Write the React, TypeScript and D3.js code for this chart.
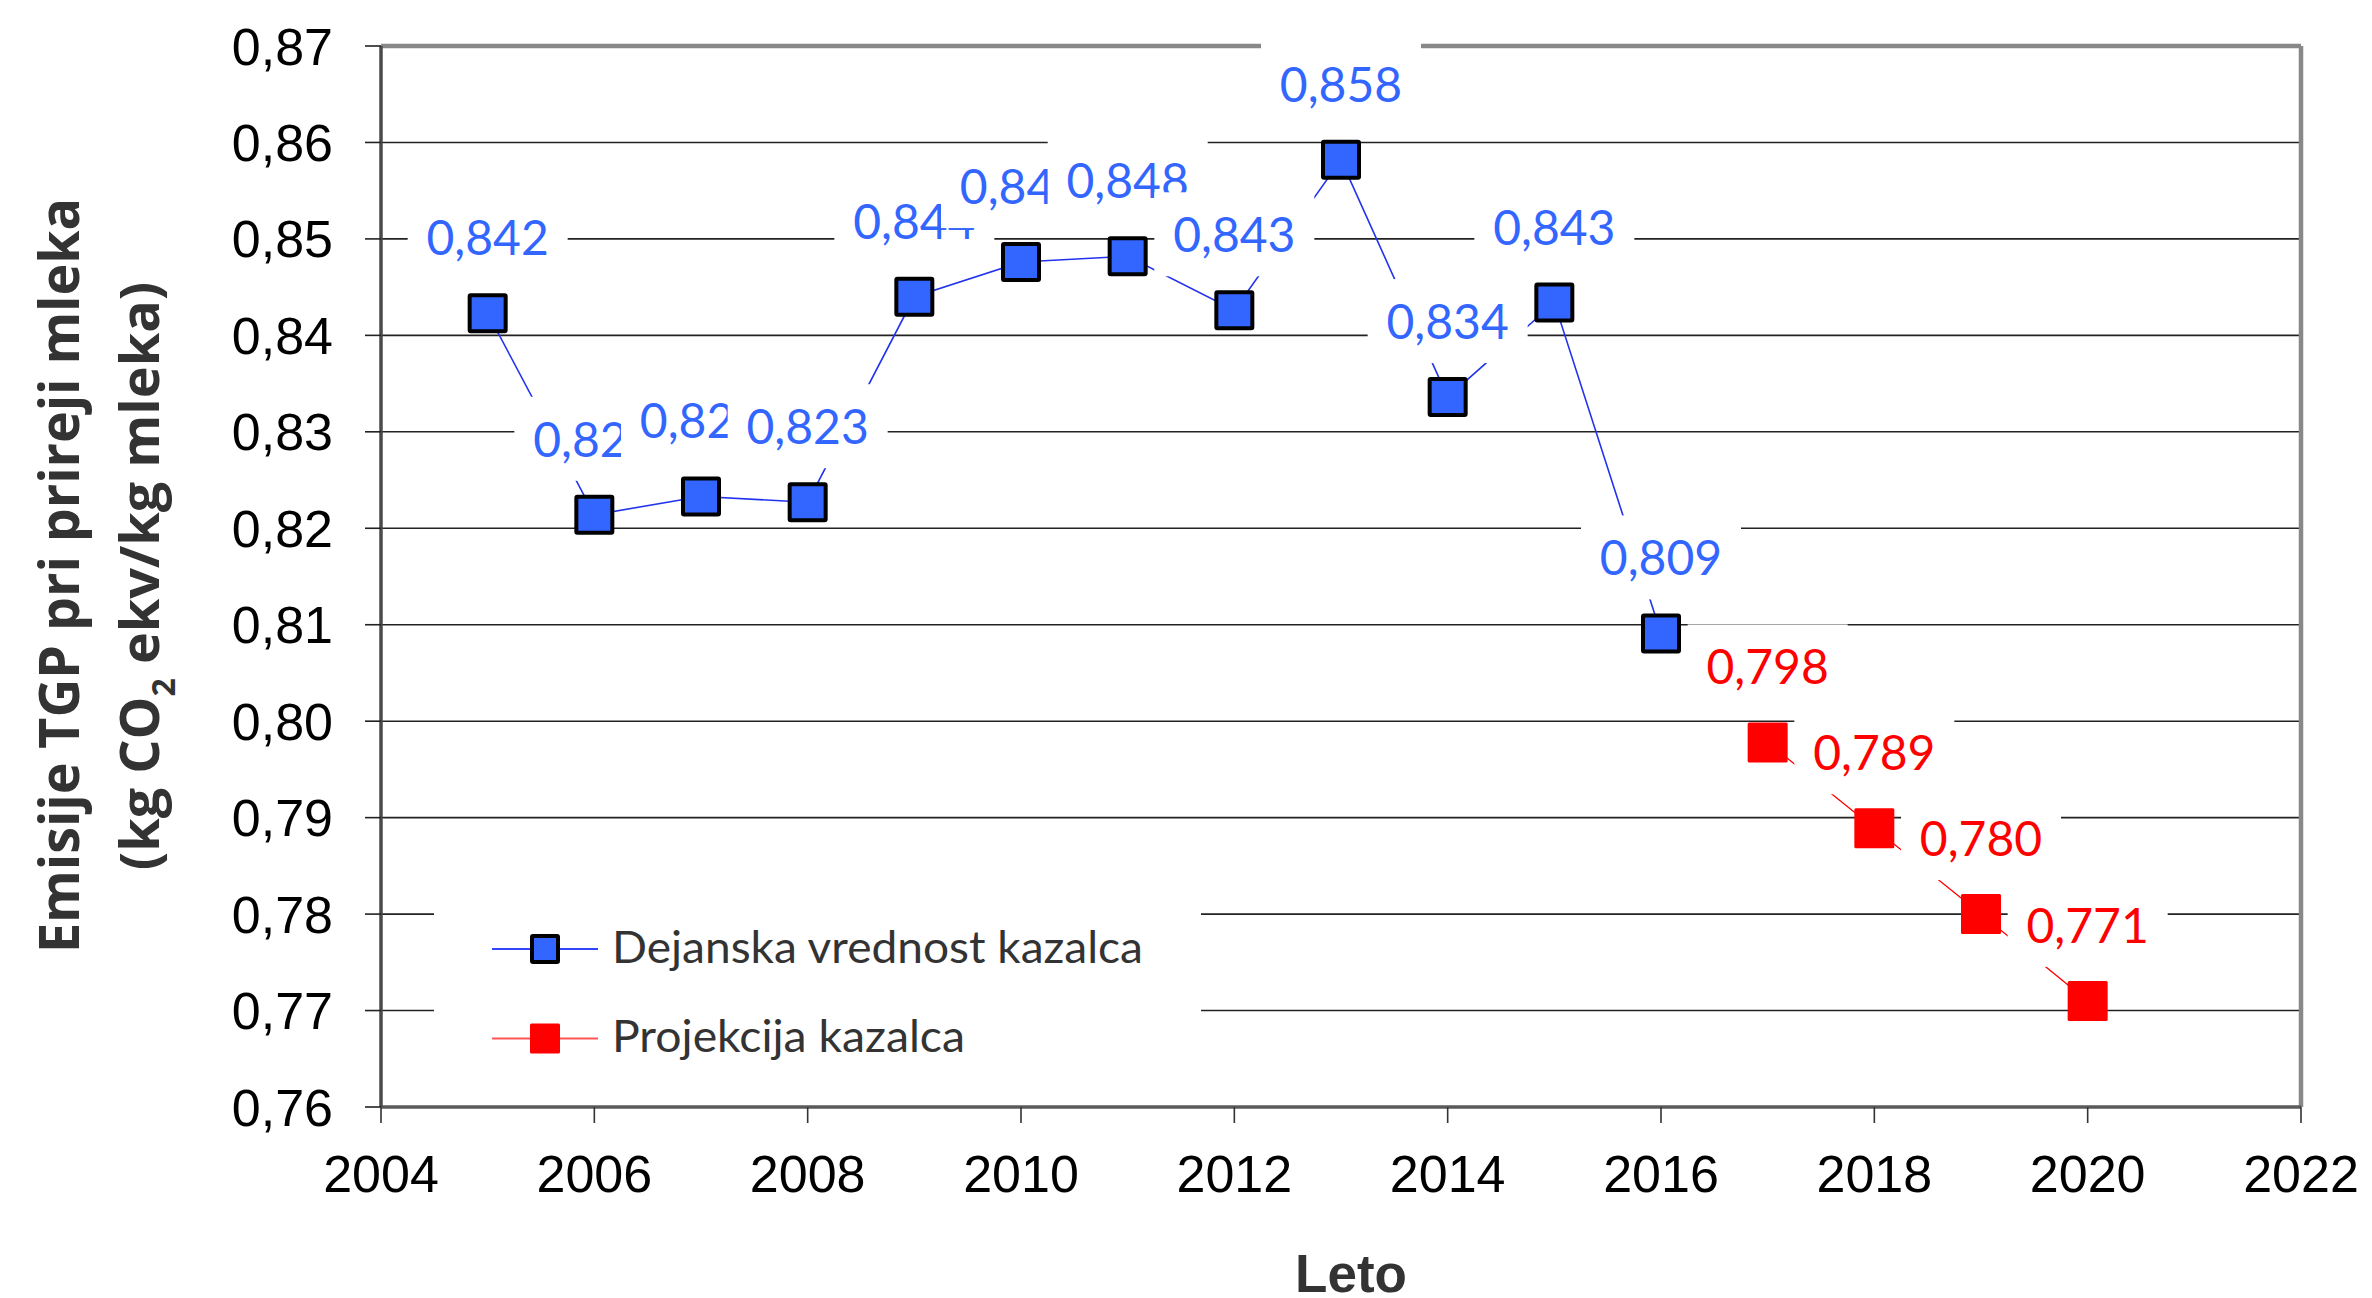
import React, { useEffect } from 'react';
import * as d3 from 'd3';

// ---- data ----
const actualYears = [2005, 2006, 2007, 2008, 2009, 2010, 2011, 2012, 2013, 2014, 2015, 2016];
const actualValues = [0.8423, 0.8214, 0.8233, 0.8227, 0.844, 0.8476, 0.8482, 0.8426, 0.8582, 0.8336, 0.8434, 0.8091];
const projectionYears = [2017, 2018, 2019, 2020];
const projectionValues = [0.7978, 0.7889, 0.78, 0.771];
const yTicks = [0.76, 0.77, 0.78, 0.79, 0.8, 0.81, 0.82, 0.83, 0.84, 0.85, 0.86, 0.87];
const xTicks = [2004, 2006, 2008, 2010, 2012, 2014, 2016, 2018, 2020, 2022];
const seriesNames = ['Dejanska vrednost kazalca', 'Projekcija kazalca'];
const yTitleLine1 = 'Emisije TGP pri prireji mleka';
const yTitleLine2a = '(kg CO';
const yTitleSub = '2';
const yTitleLine2b = ' ekv/kg mleka)';
const xTitle = 'Leto';

const W = 2372;
const H = 1298;
const PL = 381, PR = 2301, PT = 46, PB = 1107;

const BLUE_FILL = '#3366FF';
const BLUE_LINE = '#2233EE';
const RED = '#FF0000';
const LABEL_FONT = 'Lato, "Open Sans", sans-serif';
const AXIS_FONT = '"Liberation Sans", Arial, sans-serif';

export default function App() {
  useEffect(() => {
    document.body.style.margin = '0';
    document.body.style.overflow = 'hidden';
  }, []);

  const x = d3.scaleLinear().domain([2004, 2022]).range([PL, PR]);
  const y = d3.scaleLinear().domain([0.76, 0.87]).range([PB, PT]);
  const fmtTick = (v: number) => d3.format('.2f')(v).replace('.', ',');
  const fmtLbl = (v: number) => d3.format('.3f')(v).replace('.', ',');

  const actual = actualYears.map((yr, i) => [yr, actualValues[i]] as [number, number]);
  const proj = projectionYears.map((yr, i) => [yr, projectionValues[i]] as [number, number]);
  const line = d3.line<[number, number]>().x(d => x(d[0])).y(d => y(d[1]));

  const gridTicks = yTicks.filter(t => t > 0.765 && t < 0.865);

  const labelOf = (d: [number, number], color: string, key: string) => {
    const cx = x(d[0]);
    const cy = y(d[1]) - 75;
    return (
      <g key={key}>
        <rect x={cx - 80} y={cy - 43} width={160} height={84} fill="#fff" />
        <text x={cx} y={cy + 17} textAnchor="middle" fontFamily={LABEL_FONT} fontSize={48} fill={color}>
          {fmtLbl(d[1])}
        </text>
      </g>
    );
  };

  return (
    <svg width={W} height={H} style={{ position: 'absolute', left: 0, top: 0, display: 'block', background: '#fff' }}>
      {/* gridlines */}
      {gridTicks.map(t => (
        <line key={'g' + t} x1={PL} x2={PR} y1={y(t)} y2={y(t)} stroke="#222" strokeWidth={1.6} />
      ))}
      {/* frame */}
      <line x1={PL} x2={PR} y1={PT} y2={PT} stroke="#888" strokeWidth={4.5} />
      <line x1={PR} x2={PR} y1={PT} y2={PB} stroke="#888" strokeWidth={4.5} />
      <line x1={PL} x2={PR} y1={PB} y2={PB} stroke="#5a5a5a" strokeWidth={3.5} />
      <line x1={PL} x2={PL} y1={PT} y2={PB} stroke="#4a4a4a" strokeWidth={3.5} />
      {/* y ticks */}
      {yTicks.map(t => (
        <g key={'yt' + t}>
          <line x1={PL - 16} x2={PL} y1={y(t)} y2={y(t)} stroke="#222" strokeWidth={1.6} />
          <text x={333} y={y(t) + 18.5} textAnchor="end" fontFamily={AXIS_FONT} fontSize={52} fill="#000">
            {fmtTick(t)}
          </text>
        </g>
      ))}
      {/* x ticks */}
      {xTicks.map(t => (
        <g key={'xt' + t}>
          <line x1={x(t)} x2={x(t)} y1={PB} y2={PB + 16} stroke="#333" strokeWidth={1.6} />
          <text x={x(t)} y={1192} textAnchor="middle" fontFamily={AXIS_FONT} fontSize={52} fill="#000">
            {t}
          </text>
        </g>
      ))}
      {/* axis titles */}
      <text
        transform="translate(79,575.5) rotate(-90)"
        textAnchor="middle"
        fontFamily='"Open Sans", sans-serif'
        fontWeight="bold"
        fontSize={55}
        fill="#333"
        textLength={755}
        lengthAdjust="spacingAndGlyphs"
      >
        {yTitleLine1}
      </text>
      <text
        transform="translate(159,576) rotate(-90)"
        textAnchor="middle"
        fontFamily='"Open Sans", sans-serif'
        fontWeight="bold"
        fontSize={54}
        fill="#333"
      >
        {yTitleLine2a}
        <tspan fontSize={32} dy={16}>{yTitleSub}</tspan>
        <tspan dy={-16}>{yTitleLine2b}</tspan>
      </text>
      <text x={1351} y={1292} textAnchor="middle" fontFamily={AXIS_FONT} fontWeight="bold" fontSize={53} fill="#333">
        {xTitle}
      </text>
      {/* series lines */}
      <path d={line(actual) || ''} fill="none" stroke={BLUE_LINE} strokeWidth={1.6} />
      <path d={line(proj) || ''} fill="none" stroke={RED} strokeWidth={1.3} />
      {/* markers */}
      {actual.map((d, i) => (
        <rect key={'ma' + i} x={x(d[0]) - 18} y={y(d[1]) - 18} width={36} height={36} fill={BLUE_FILL} stroke="#000" strokeWidth={4} rx={1} />
      ))}
      {proj.map((d, i) => (
        <rect key={'mp' + i} x={x(d[0]) - 20} y={y(d[1]) - 20} width={40} height={40} fill={RED} rx={1.5} />
      ))}
      {/* data labels */}
      {actual.map((d, i) => labelOf(d, BLUE_FILL, 'la' + i))}
      {proj.map((d, i) => labelOf(d, RED, 'lp' + i))}
      {/* legend */}
      <rect x={434} y={880} width={767} height={195} fill="#fff" />
      <line x1={492} x2={598} y1={949} y2={949} stroke="#3344FF" strokeWidth={2} />
      <rect x={532} y={936} width={26} height={26} fill={BLUE_FILL} stroke="#000" strokeWidth={4} rx={1} />
      <text x={612} y={963} fontFamily={LABEL_FONT} fontSize={45} fill="#333" textLength={531} lengthAdjust="spacingAndGlyphs">
        {seriesNames[0]}
      </text>
      <line x1={492} x2={598} y1={1038.5} y2={1038.5} stroke="#FF5555" strokeWidth={2} />
      <rect x={530} y={1023.5} width={30} height={30} fill={RED} rx={1.5} />
      <text x={612} y={1052} fontFamily={LABEL_FONT} fontSize={45} fill="#333" textLength={353} lengthAdjust="spacingAndGlyphs">
        {seriesNames[1]}
      </text>
    </svg>
  );
}
